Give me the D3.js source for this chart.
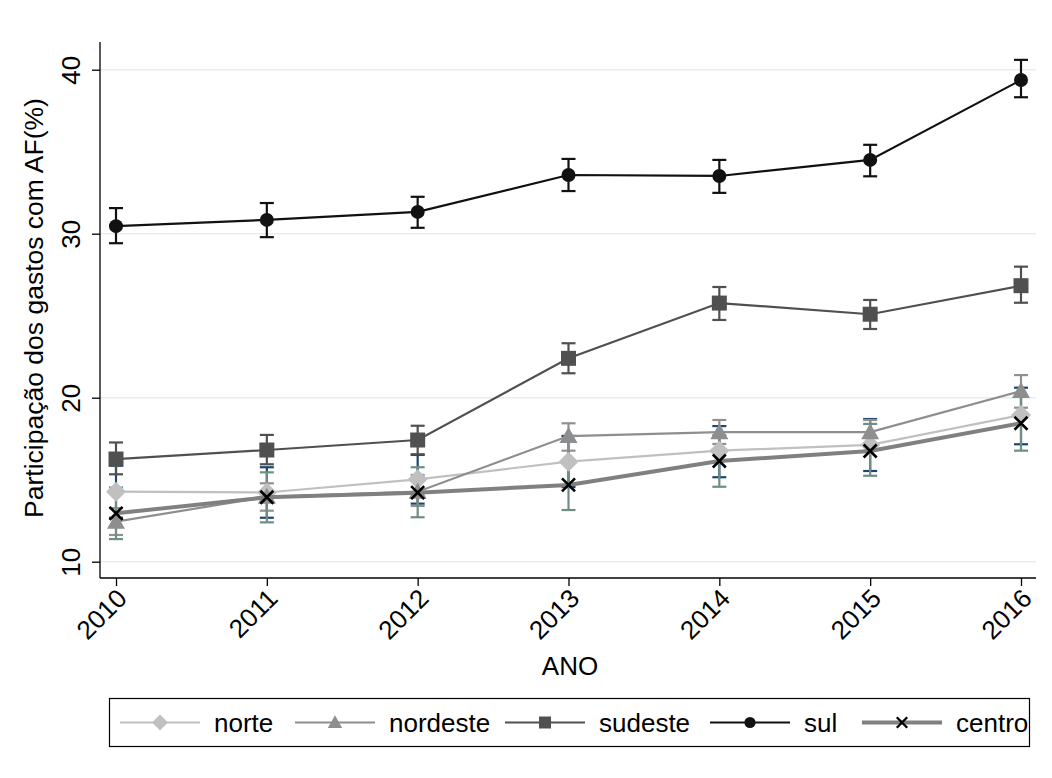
<!DOCTYPE html>
<html>
<head>
<meta charset="utf-8">
<script src="https://cdn.jsdelivr.net/npm/d3@7"></script>
<style>
  html, body { margin: 0; padding: 0; background: #fff; }
  svg { display: block; font-family: "Liberation Sans", Arial, Helvetica, sans-serif; }
</style>
</head>
<body>
<svg id="chart" width="1052" height="778"></svg>
<script>
// Share of spending on family agriculture (AF) by region, 2010-2016, with confidence intervals
const years = [2010, 2011, 2012, 2013, 2014, 2015, 2016];
const yTicks = [10, 20, 30, 40];

const norte      = [14.27, 14.22, 15.02, 16.10, 16.77, 17.12, 18.95];
const norteLo    = [12.68, 12.68, 13.54, 14.55, 15.15, 15.53, 17.16];
const norteHi    = [15.85, 15.76, 16.51, 17.67, 18.27, 18.70, 20.61];

const nordeste   = [12.44, 13.96, 14.27, 17.66, 17.90, 17.90, 20.41];
const nordesteLo = [11.63, 13.11, 13.40, 16.77, 17.18, 17.18, 19.39];
const nordesteHi = [13.27, 14.78, 15.29, 18.44, 18.64, 18.64, 21.38];

const sudeste    = [16.26, 16.81, 17.42, 22.40, 25.77, 25.09, 26.83];
const sudesteLo  = [15.33, 15.94, 16.55, 21.49, 24.74, 24.19, 25.79];
const sudesteHi  = [17.27, 17.73, 18.29, 23.32, 26.75, 25.96, 27.99];

const sul        = [30.46, 30.84, 31.33, 33.58, 33.52, 34.50, 39.37];
const sulLo      = [29.42, 29.79, 30.36, 32.60, 32.49, 33.50, 38.32];
const sulHi      = [31.56, 31.87, 32.25, 34.56, 34.50, 35.42, 40.60];

const centro     = [12.95, 13.93, 14.21, 14.68, 16.14, 16.75, 18.44];
const centroLo   = [11.38, 12.40, 12.71, 13.15, 14.57, 15.24, 16.77];
const centroHi   = [14.52, 15.45, 15.76, 16.20, 17.71, 18.40, 20.10];

const seriesNames = ["norte", "nordeste", "sudeste", "sul", "centro"];

const series = [
  { name: seriesNames[0], v: norte,    lo: norteLo,    hi: norteHi,    line: "#c0c0c0", lw: 2.2, marker: "diamond",  mfill: "#c0c0c0", ci: "#1a476f" },
  { name: seriesNames[1], v: nordeste, lo: nordesteLo, hi: nordesteHi, line: "#8e8e8e", lw: 2.2, marker: "triangle", mfill: "#8e8e8e", ci: "#909090" },
  { name: seriesNames[2], v: sudeste,  lo: sudesteLo,  hi: sudesteHi,  line: "#505050", lw: 2.2, marker: "square",   mfill: "#505050", ci: "#505050" },
  { name: seriesNames[3], v: sul,      lo: sulLo,      hi: sulHi,      line: "#111111", lw: 2.2, marker: "circle",   mfill: "#111111", ci: "#111111" },
  { name: seriesNames[4], v: centro,   lo: centroLo,   hi: centroHi,   line: "#808080", lw: 4,   marker: "x",        mfill: "#000000", ci: "#6e8e84" }
];

const FONT = 26;
const svg = d3.select("#chart");
const plot = { left: 100, right: 1036, top: 42, bottom: 578 };

const x = d3.scalePoint().domain(years).range([116, 1021]);
const y = d3.scaleLinear().domain([10, 40]).range([561.7, 69.7]);

// gridlines
svg.append("g").selectAll("line").data(yTicks).join("line")
  .attr("x1", plot.left).attr("x2", plot.right)
  .attr("y1", d => y(d)).attr("y2", d => y(d))
  .attr("stroke", "#e4edf1").attr("stroke-width", 1.5);

// y axis with labels rotated to read bottom-up
const yAxis = d3.axisLeft(y).tickValues(yTicks).tickSize(8).tickPadding(10);
const gy = svg.append("g").attr("transform", `translate(${plot.left},0)`).call(yAxis);
gy.select(".domain").attr("d", `M-0,${plot.top}V${plot.bottom}`).attr("stroke", "#000").attr("stroke-width", 1.3);
gy.selectAll(".tick line").attr("stroke", "#000").attr("stroke-width", 1.3);
gy.selectAll(".tick text")
  .attr("font-size", FONT).attr("fill", "#000")
  .attr("text-anchor", "middle")
  .attr("x", null).attr("y", null).attr("dy", null)
  .attr("transform", "translate(-20,0) rotate(-90)");

// x axis with year labels at 45 degrees
const xAxis = d3.axisBottom(x).tickSize(8).tickPadding(6).tickFormat(d3.format("d"));
const gx = svg.append("g").attr("transform", `translate(0,${plot.bottom})`).call(xAxis);
gx.select(".domain").attr("d", `M${plot.left},0H${plot.right}`).attr("stroke", "#000").attr("stroke-width", 1.3);
gx.selectAll(".tick line").attr("stroke", "#000").attr("stroke-width", 1.3);
gx.selectAll(".tick text")
  .attr("font-size", FONT).attr("fill", "#000")
  .attr("text-anchor", "end")
  .attr("x", null).attr("y", null).attr("dy", null)
  .attr("transform", "translate(12,22) rotate(-45)");

// axis titles
svg.append("text")
  .attr("transform", `translate(43,308) rotate(-90)`)
  .attr("text-anchor", "middle").attr("font-size", 26.5).attr("fill", "#000")
  .text("Participação dos gastos com AF(%)");

svg.append("text")
  .attr("x", 570).attr("y", 675)
  .attr("text-anchor", "middle").attr("font-size", FONT).attr("fill", "#000")
  .text("ANO");

// marker shapes (k scales the marker size)
function markerPath(kind, cx, cy, k) {
  switch (kind) {
    case "diamond": { const r = 10 * k; return `M${cx},${cy - r}L${cx + r},${cy}L${cx},${cy + r}L${cx - r},${cy}Z`; }
    case "triangle": { const r = 9 * k; return `M${cx},${cy - r}L${cx + r},${cy + r * 0.78}L${cx - r},${cy + r * 0.78}Z`; }
    case "square": { const r = 7.5 * k; return `M${cx - r},${cy - r}H${cx + r}V${cy + r}H${cx - r}Z`; }
    case "x": { const r = 6.5 * k; return `M${cx - r},${cy - r}L${cx + r},${cy + r}M${cx - r},${cy + r}L${cx + r},${cy - r}`; }
    default: return "";
  }
}
function drawMarker(g, kind, cx, cy, fill, k = 1) {
  if (kind === "circle") {
    g.append("circle").attr("cx", cx).attr("cy", cy).attr("r", 7 * k).attr("fill", fill);
  } else if (kind === "x") {
    g.append("path").attr("d", markerPath(kind, cx, cy, k)).attr("stroke", fill).attr("stroke-width", 2.6 * Math.sqrt(k)).attr("fill", "none");
  } else {
    g.append("path").attr("d", markerPath(kind, cx, cy, k)).attr("fill", fill);
  }
}

// confidence interval caps
const capW = 7;
const ciG = svg.append("g");
series.forEach(s => {
  years.forEach((yr, i) => {
    const cx = x(yr);
    const g = ciG.append("g").attr("stroke", s.ci).attr("stroke-width", 2.2);
    g.append("line").attr("x1", cx).attr("x2", cx).attr("y1", y(s.lo[i])).attr("y2", y(s.hi[i]));
    g.append("line").attr("x1", cx - capW).attr("x2", cx + capW).attr("y1", y(s.lo[i])).attr("y2", y(s.lo[i]));
    g.append("line").attr("x1", cx - capW).attr("x2", cx + capW).attr("y1", y(s.hi[i])).attr("y2", y(s.hi[i]));
  });
});

// connected lines and markers
const line = d3.line().x(d => x(d[0])).y(d => y(d[1]));
series.forEach(s => {
  const g = svg.append("g");
  g.append("path").datum(years.map((yr, i) => [yr, s.v[i]]))
    .attr("d", line).attr("fill", "none").attr("stroke", s.line).attr("stroke-width", s.lw);
  years.forEach((yr, i) => drawMarker(g, s.marker, x(yr), y(s.v[i]), s.mfill));
});

// legend
const legend = svg.append("g");
legend.append("rect").attr("x", 109.5).attr("y", 698.5).attr("width", 920).attr("height", 48)
  .attr("fill", "#fff").attr("stroke", "#000").attr("stroke-width", 1.2);
const legendX = [120, 295, 505, 710, 862];
legend.append("clipPath").attr("id", "legclip")
  .append("rect").attr("x", 110).attr("y", 699).attr("width", 919).attr("height", 47);
const items = legend.append("g").attr("clip-path", "url(#legclip)");
series.forEach((s, k) => {
  const x0 = legendX[k], ly = 722.5;
  items.append("line").attr("x1", x0).attr("x2", x0 + 80).attr("y1", ly).attr("y2", ly)
    .attr("stroke", s.line).attr("stroke-width", s.lw);
  drawMarker(items, s.marker, x0 + 40, ly, s.mfill, 0.8);
  items.append("text").attr("x", x0 + 94).attr("y", ly + 9).attr("font-size", FONT).attr("fill", "#000").text(s.name);
});
</script>
</body>
</html>
